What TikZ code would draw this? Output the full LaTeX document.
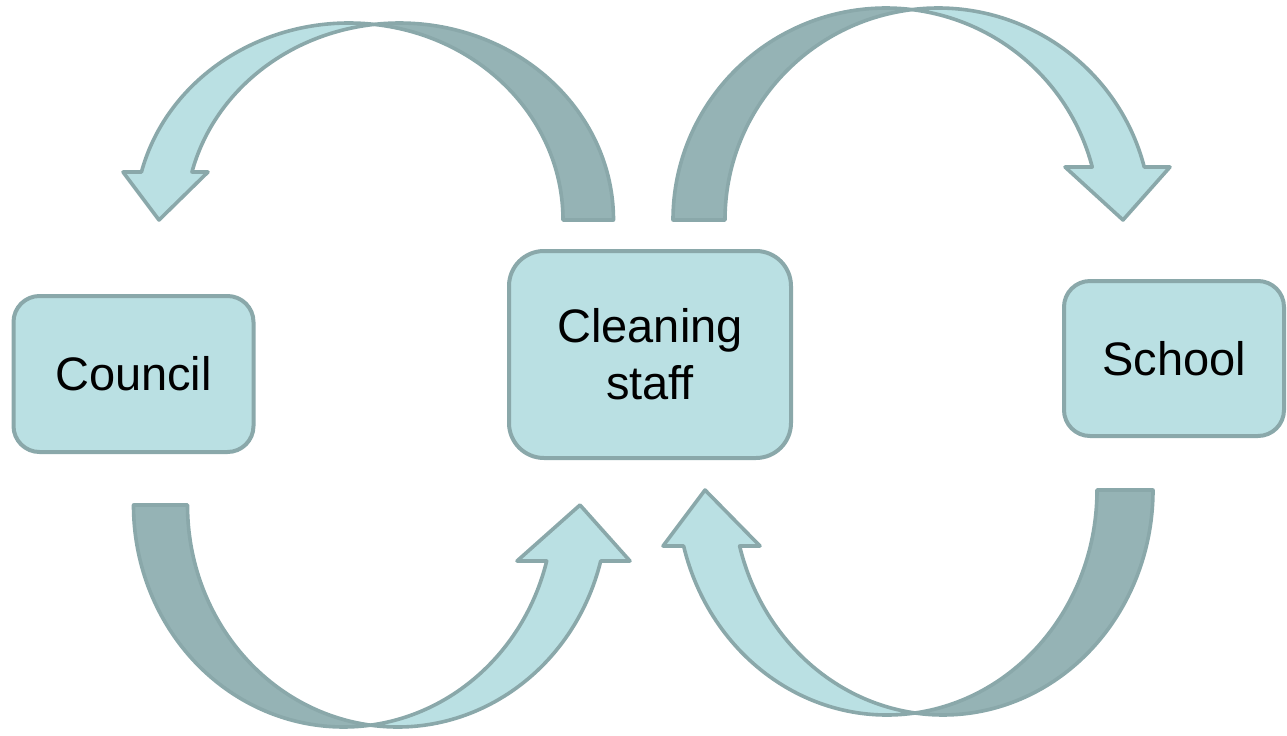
\documentclass[tikz,border=0pt]{standalone}
\usepackage{fontspec}
\setmainfont{Liberation Sans}
\definecolor{boxfill}{HTML}{BAE0E3}
\definecolor{darkfill}{HTML}{95B3B5}
\definecolor{edgecol}{HTML}{8AA8AA}
\tikzset{
  stagebox/.style={draw=edgecol, line width=2pt, fill=boxfill, align=center,
    font=\fontsize{23.5}{28.5}\selectfont, inner sep=0pt},
  frontband/.style={draw=edgecol, fill=boxfill, line width=1.8pt, line join=round},
  backband/.style={draw=edgecol, fill=darkfill, line width=1.8pt, line join=round},
}
% point on ellipse: cx, cy, rx, ry, angle
\newcommand\ellpt[5]{({#1+#3*cos(#5)},{#2+#4*sin(#5)})}
% elliptic arc: cx, cy, rx, ry, start, end
\newcommand\ellarc[6]{\ellpt{#1}{#2}{#3}{#4}{#5} arc[start angle={#5}, end angle={#6}, x radius={#3}, y radius={#4}]}
\begin{document}
\begin{tikzpicture}[x=0.5pt, y=-0.5pt]
\useasboundingbox (0,0) rectangle (1287,735);

% top-left arrow (Cleaning staff -> Council): ellipses centred at 349 and 399.5
\path[backband] \ellarc{399.5}{220}{214}{197}{360}{263.22}
  -- \ellarc{349}{220}{214}{197}{276.78}{360} -- cycle;
\path[frontband] \ellarc{349}{220}{214}{197}{180+asin(48/197)}{276.78}
  -- \ellarc{399.5}{220}{214}{197}{263.22}{180+asin(48/197)}
  -- (208,172) -- (159,220) coordinate (tipA) -- (123,172) -- cycle;

% top-right arrow (Cleaning staff -> School): ellipses centred at 886 and 938
\path[backband] \ellarc{886}{220}{213}{212}{180}{277.01}
  -- \ellarc{938}{220}{213}{212}{262.99}{180} -- cycle;
\path[frontband] \ellarc{938}{220}{213}{212}{262.99}{360-asin(53/212)}
  -- (1170,167) -- (1123,220) coordinate (tipB) -- (1065,167)
  -- \ellarc{886}{220}{213}{212}{360-asin(53/212)}{277.01} -- cycle;

% bottom-left arrow (Council -> Cleaning staff): ellipses centred at 343.5 and 397.5
\path[backband] \ellarc{343.5}{505}{210}{222}{180}{82.61}
  -- \ellarc{397.5}{505}{210}{222}{97.39}{180} -- cycle;
\path[frontband] \ellarc{397.5}{505}{210}{222}{97.39}{asin(56/222)}
  -- (630,561) -- (580,505) coordinate (tipC) -- (517,561)
  -- \ellarc{343.5}{505}{210}{222}{asin(56/222)}{82.61} -- cycle;

% bottom-right arrow (School -> Cleaning staff): ellipses centred at 943 and 887
\path[backband] \ellarc{943}{490}{210}{225}{0}{97.66}
  -- \ellarc{887}{490}{210}{225}{82.34}{0} -- cycle;
\path[frontband] \ellarc{887}{490}{210}{225}{82.34}{180-asin(56/225)}
  -- (663,546) -- (705,490) coordinate (tipD) -- (760,546)
  -- \ellarc{943}{490}{210}{225}{180-asin(56/225)}{97.66} -- cycle;

% boxes
\node[stagebox, minimum width=120pt, minimum height=78pt, rounded corners=13pt] (council) at (133.5,374) {Council};
\node[stagebox, minimum width=141pt, minimum height=103.5pt, rounded corners=17.5pt] (staff) at (650,354.5) {Cleaning\\staff};
\node[stagebox, minimum width=110pt, minimum height=77.5pt, rounded corners=13pt] (school) at (1174,358.5) {School};
\end{tikzpicture}
\end{document}
